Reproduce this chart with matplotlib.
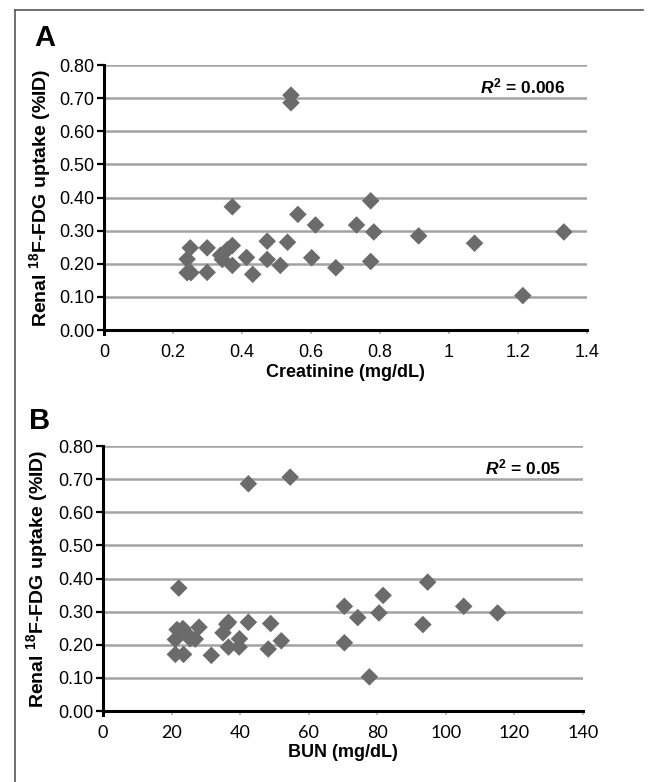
import matplotlib.pyplot as plt
from matplotlib.lines import Line2D

plt.rcParams['font.family'] = ['Liberation Sans', 'DejaVu Sans']
plt.rcParams['mathtext.fontset'] = 'custom'
plt.rcParams['mathtext.rm'] = 'Liberation Sans:bold'
plt.rcParams['mathtext.it'] = 'Liberation Sans:bold:italic'
plt.rcParams['mathtext.bf'] = 'Liberation Sans:bold'

# Panel A: creatinine vs renal uptake
creatinine = [0.542, 0.542, 0.372, 0.773, 0.562, 0.613, 0.732, 0.782, 1.333, 0.912,
              1.074, 0.473, 0.532, 0.250, 0.299, 0.372, 0.357, 0.338, 0.343, 0.241,
              0.413, 0.473, 0.602, 0.372, 0.511, 0.672, 0.773, 0.241, 0.252, 0.299,
              0.431, 1.214]
uptake_a = [0.709, 0.686, 0.372, 0.390, 0.349, 0.317, 0.317, 0.296, 0.296, 0.284,
            0.262, 0.268, 0.265, 0.248, 0.248, 0.255, 0.242, 0.226, 0.213, 0.214,
            0.219, 0.213, 0.218, 0.195, 0.195, 0.188, 0.207, 0.173, 0.173, 0.174,
            0.168, 0.104]

# Panel B: BUN vs renal uptake
bun = [54.6, 42.4, 22.1, 94.7, 81.7, 70.4, 105.2, 80.5, 115.1, 74.3,
       93.3, 42.4, 48.9, 36.6, 36.1, 35.0, 28.0, 21.6, 23.3, 24.5,
       25.4, 26.9, 21.1, 39.8, 52.0, 36.6, 39.7, 48.2, 70.4, 21.1,
       23.5, 31.6, 77.7]
uptake_b = [0.706, 0.686, 0.371, 0.389, 0.349, 0.316, 0.316, 0.296, 0.296, 0.282,
            0.261, 0.268, 0.264, 0.268, 0.262, 0.236, 0.253, 0.246, 0.249, 0.233,
            0.218, 0.217, 0.216, 0.218, 0.212, 0.193, 0.193, 0.187, 0.206, 0.171,
            0.171, 0.168, 0.103]

yticks = [0.0, 0.1, 0.2, 0.3, 0.4, 0.5, 0.6, 0.7, 0.8]
xticks_a = [0, 0.2, 0.4, 0.6, 0.8, 1, 1.2, 1.4]
xticks_b = [0, 20, 40, 60, 80, 100, 120, 140]

W, H = 649, 782
fig = plt.figure(figsize=(W / 100, H / 100), dpi=100)


def px_axes(left, top, right, bottom):
    return fig.add_axes([left / W, 1 - bottom / H, (right - left) / W, (bottom - top) / H])


def style(ax, x, y, xticks, xlabel, r2, xfont, label_x):
    ax.scatter(x, y, marker='D', s=80, color='#6b6b6b', edgecolors='none', zorder=3, clip_on=False)
    ax.set_ylim(0, 0.8)
    ax.set_xlim(xticks[0], xticks[-1])
    ax.set_yticks(yticks)
    ax.set_yticklabels(['%.2f' % v for v in yticks], fontsize=13)
    ax.set_xticks(xticks)
    ax.set_xticklabels([('%g' % v) for v in xticks], fontsize=13, family=xfont)
    for v in yticks[1:]:
        ax.axhline(v, color='#a3a3a3', lw=1.8, zorder=1)
    for s in ['top', 'right']:
        ax.spines[s].set_visible(False)
    ax.spines['left'].set_linewidth(2.2)
    ax.spines['left'].set_bounds(-0.012, 0.8)
    ax.spines['bottom'].set_linewidth(2.2)
    ax.tick_params(axis='y', direction='out', length=5, width=1.6, color='black', pad=2)
    ax.tick_params(axis='x', direction='out', length=3, width=1.2, color='#b0b0b0', pad=7)
    ax.set_xlabel(xlabel, fontsize=13, fontweight='bold', labelpad=2)
    ax.set_ylabel('Renal $^{18}$F-FDG uptake (%ID)', fontsize=14, fontweight='bold')
    ax.yaxis.set_label_coords(label_x, 0.5)
    ax.text(0.955, 0.92, '$R^{2}$ = ' + r2, transform=ax.transAxes, ha='right', va='center',
            fontsize=12.5, fontweight='bold')


ax_a = px_axes(104, 65, 587, 330)
style(ax_a, creatinine, uptake_a, xticks_a, 'Creatinine (mg/dL)', '0.006', 'Liberation Sans',
      (53 - 104) / 483)

ax_b = px_axes(103, 446, 583, 711)
style(ax_b, bun, uptake_b, xticks_b, 'BUN (mg/dL)', '0.05', 'Lato', (50 - 103) / 480)

fig.text(34 / W, 1 - 38 / H, 'A', fontsize=21, fontweight='bold', ha='left', va='center')
fig.text(29 / W, 1 - 421 / H, 'B', fontsize=21, fontweight='bold', ha='left', va='center')

# outer frame (top and left edges visible)
fig.add_artist(Line2D([15 / W, 643 / W], [1 - 10 / H, 1 - 10 / H], color='#555555', lw=1.2))
fig.add_artist(Line2D([15 / W, 15 / W], [1 - 10 / H, 0], color='#555555', lw=1.2))

fig.savefig('out.png', dpi=100)
